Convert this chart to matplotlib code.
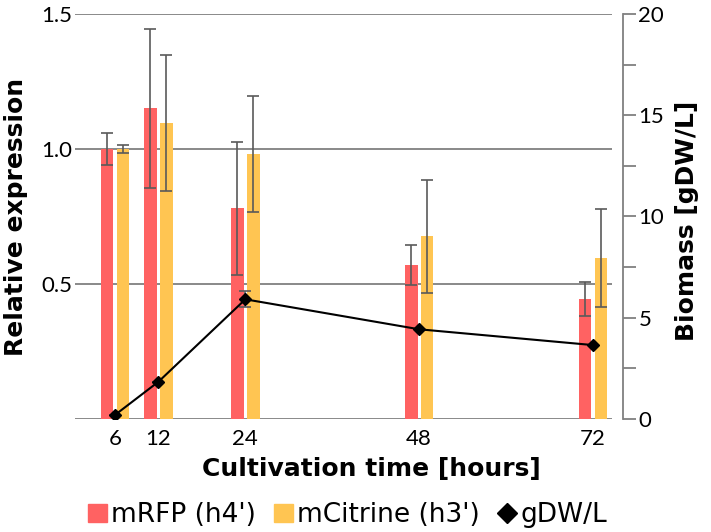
import matplotlib.pyplot as plt
from matplotlib.patches import Patch
from matplotlib.lines import Line2D
from matplotlib.ticker import MultipleLocator

hours = [6, 12, 24, 48, 72]
mrfp = [1.0, 1.15, 0.78, 0.57, 0.445]
mrfp_err = [0.06, 0.295, 0.247, 0.075, 0.062]
mcit = [1.0, 1.095, 0.98, 0.677, 0.596]
mcit_err = [0.015, 0.252, 0.215, 0.21, 0.18]
biomass = [0.2, 1.84, 5.91, 4.43, 3.65]
biomass_err = [0, 0, 0.4, 0, 0]
series_names = ["mRFP (h4')", "mCitrine (h3')", "gDW/L"]

red = '#ff6262'
yellow = '#ffc552'
grey = '#808080'
errc = '#5a5a5a'
tickfont = 'Lato'
labfont = 'DejaVu Sans'

fig = plt.figure(figsize=(7.11, 5.32), dpi=100)
ax = fig.add_axes([0.10549, 0.21241, 0.75527, 0.76128])

w = 1.75
off = 1.1
xr = [h - off for h in hours]
xy = [h + off for h in hours]
ekw = dict(ecolor=errc, elinewidth=1.2, capsize=4, capthick=1.2)
ax.bar(xr, mrfp, width=w, color=red, yerr=mrfp_err, error_kw=ekw, zorder=2)
ax.bar(xy, mcit, width=w, color=yellow, yerr=mcit_err, error_kw=ekw, zorder=2)

ax.set_xlim(0.48, 74.62)
ax.set_ylim(0, 1.5)
ax.set_yticks([0, 0.5, 1.0, 1.5])
ax.set_yticklabels(['', '0.5', '1.0', '1.5'])
ax.set_xticks(hours)
ax.set_xticklabels([str(h) for h in hours])
ax.grid(axis='y', color=grey, linewidth=1.3)
ax.set_axisbelow(True)
for s in ax.spines.values():
    s.set_visible(False)
ax.tick_params(axis='both', length=0, labelsize=16)
ax.tick_params(axis='y', pad=2)
ax.tick_params(axis='x', pad=7)
for t in ax.get_xticklabels() + ax.get_yticklabels():
    t.set_fontfamily(tickfont)

ax.set_xlabel('Cultivation time [hours]', fontsize=18, fontweight='bold', family=labfont)
ax.xaxis.set_label_coords(0.551, -0.094)
ax.set_ylabel('Relative expression', fontsize=18, fontweight='bold', family=labfont)
ax.yaxis.set_label_coords(-0.0875, 0.5)

ax2 = ax.twinx()
ax2.set_ylim(0, 20)
ax2.errorbar(hours, biomass, yerr=biomass_err, fmt='none', ecolor=errc,
             elinewidth=1.2, capsize=4, capthick=1.2, zorder=2)
ax2.plot(hours, biomass, color='black', linewidth=1.5, marker='D', markersize=6.3, zorder=3)
for k in ['top', 'left', 'bottom']:
    ax2.spines[k].set_visible(False)
ax2.spines['right'].set_position(('outward', 8))
ax2.spines['right'].set_color(grey)
ax2.spines['right'].set_linewidth(1.3)
ax2.yaxis.set_major_locator(MultipleLocator(5))
ax2.yaxis.set_minor_locator(MultipleLocator(2.5))
ax2.tick_params(axis='y', which='both', direction='out', length=9, width=1.3,
                color=grey, labelsize=16, pad=2)
for t in ax2.get_yticklabels():
    t.set_fontfamily(tickfont)
ax2.set_ylabel('Biomass [gDW/L]', fontsize=18, fontweight='bold', family=labfont)
ax2.yaxis.set_label_coords(1.1173, 0.49)

handles = [Patch(color=red), Patch(color=yellow),
           Line2D([], [], color='black', marker='D', markersize=10, linestyle='none')]
fig.legend(handles, series_names, loc='center', bbox_to_anchor=(0.489, 0.032),
           ncol=3, frameon=False, fontsize=19, handlelength=0.7, handleheight=0.7,
           handletextpad=0.15, columnspacing=0.7, borderpad=0, borderaxespad=0)

fig.savefig('out.png', dpi=100)
